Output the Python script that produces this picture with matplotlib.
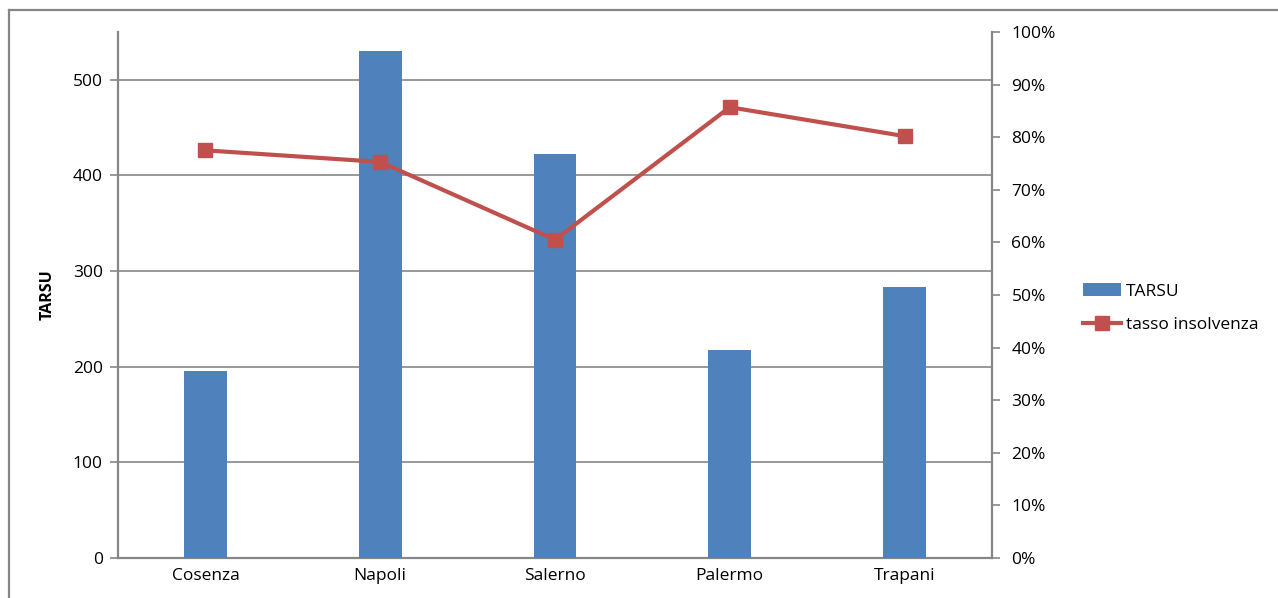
import numpy as np
import matplotlib
matplotlib.use('Agg')
import matplotlib.pyplot as plt
from matplotlib.ticker import PercentFormatter
from matplotlib.lines import Line2D
from matplotlib.patches import Patch

plt.rcParams['font.family'] = ['Open Sans', 'DejaVu Sans']

cities = ['Cosenza', 'Napoli', 'Salerno', 'Palermo', 'Trapani']
tarsu = [196, 530, 422, 218, 283]
tasso = [77.5, 75.3, 60.5, 85.7, 80.2]

bar_col = '#4f81bd'
line_col = '#c0504d'
grey = '#868686'
fs = 12.5

fig = plt.figure(figsize=(12.78, 5.98), dpi=100)
W, H = 1278., 598.
ax = fig.add_axes([118 / W, 1 - 558 / H, (992 - 118) / W, (558 - 32) / H])
ax2 = ax.twinx()

x = np.arange(len(cities))
ax.bar(x, tarsu, width=0.245, color=bar_col, zorder=3)
ax.set_xlim(-0.5, len(cities) - 0.5)
ax.set_ylim(0, 550)
ax.set_yticks(range(0, 501, 100))
ax.yaxis.grid(True, color=grey, lw=1.2, zorder=0)
ax.set_axisbelow(True)
ax.set_xticks(x)
ax.set_xticklabels(cities)
ax.tick_params(axis='x', length=0, pad=7, labelsize=fs)
ax.tick_params(axis='y', length=6, width=1.2, color=grey, pad=5, labelsize=fs)
ax.set_ylabel('TARSU', fontsize=11.5, fontweight='bold')
ax.yaxis.set_label_coords((56 - 118) / 874., 0.5)

for s in ['top', 'right']:
    ax.spines[s].set_visible(False)
    ax2.spines[s].set_visible(False)
for s in ['left', 'bottom']:
    ax.spines[s].set_color(grey)
    ax.spines[s].set_linewidth(1.6)
ax2.spines['left'].set_visible(False)
ax2.spines['bottom'].set_visible(False)
ax2.spines['right'].set_visible(True)
ax2.spines['right'].set_color(grey)
ax2.spines['right'].set_linewidth(1.6)

ax2.plot(x, tasso, color=line_col, lw=3, marker='s', ms=10, zorder=4)
ax2.set_ylim(0, 100)
ax2.set_yticks(range(0, 101, 10))
ax2.yaxis.set_major_formatter(PercentFormatter(decimals=0))
ax2.tick_params(axis='y', length=6, width=1.2, color=grey, pad=8, labelsize=fs)

handles = [Patch(facecolor=bar_col, edgecolor='none'),
           Line2D([0], [0], color=line_col, lw=3, marker='s', ms=10)]
fig.legend(handles, ['TARSU', 'tasso insolvenza'], loc='center left',
           bbox_to_anchor=(1067 / W, 1 - 308 / H), frameon=False,
           fontsize=fs, handlelength=2.2, handleheight=0.8,
           handletextpad=0.3, labelspacing=0.95)

# outer chart frame
frame = [Line2D([9 / W, 9 / W], [0, 1 - 10 / H]),
         Line2D([9 / W, 1], [1 - 10 / H, 1 - 10 / H])]
for ln in frame:
    ln.set_color(grey)
    ln.set_linewidth(1.6)
    ln.set_transform(fig.transFigure)
    fig.add_artist(ln)

fig.savefig('out.png', dpi=100)
